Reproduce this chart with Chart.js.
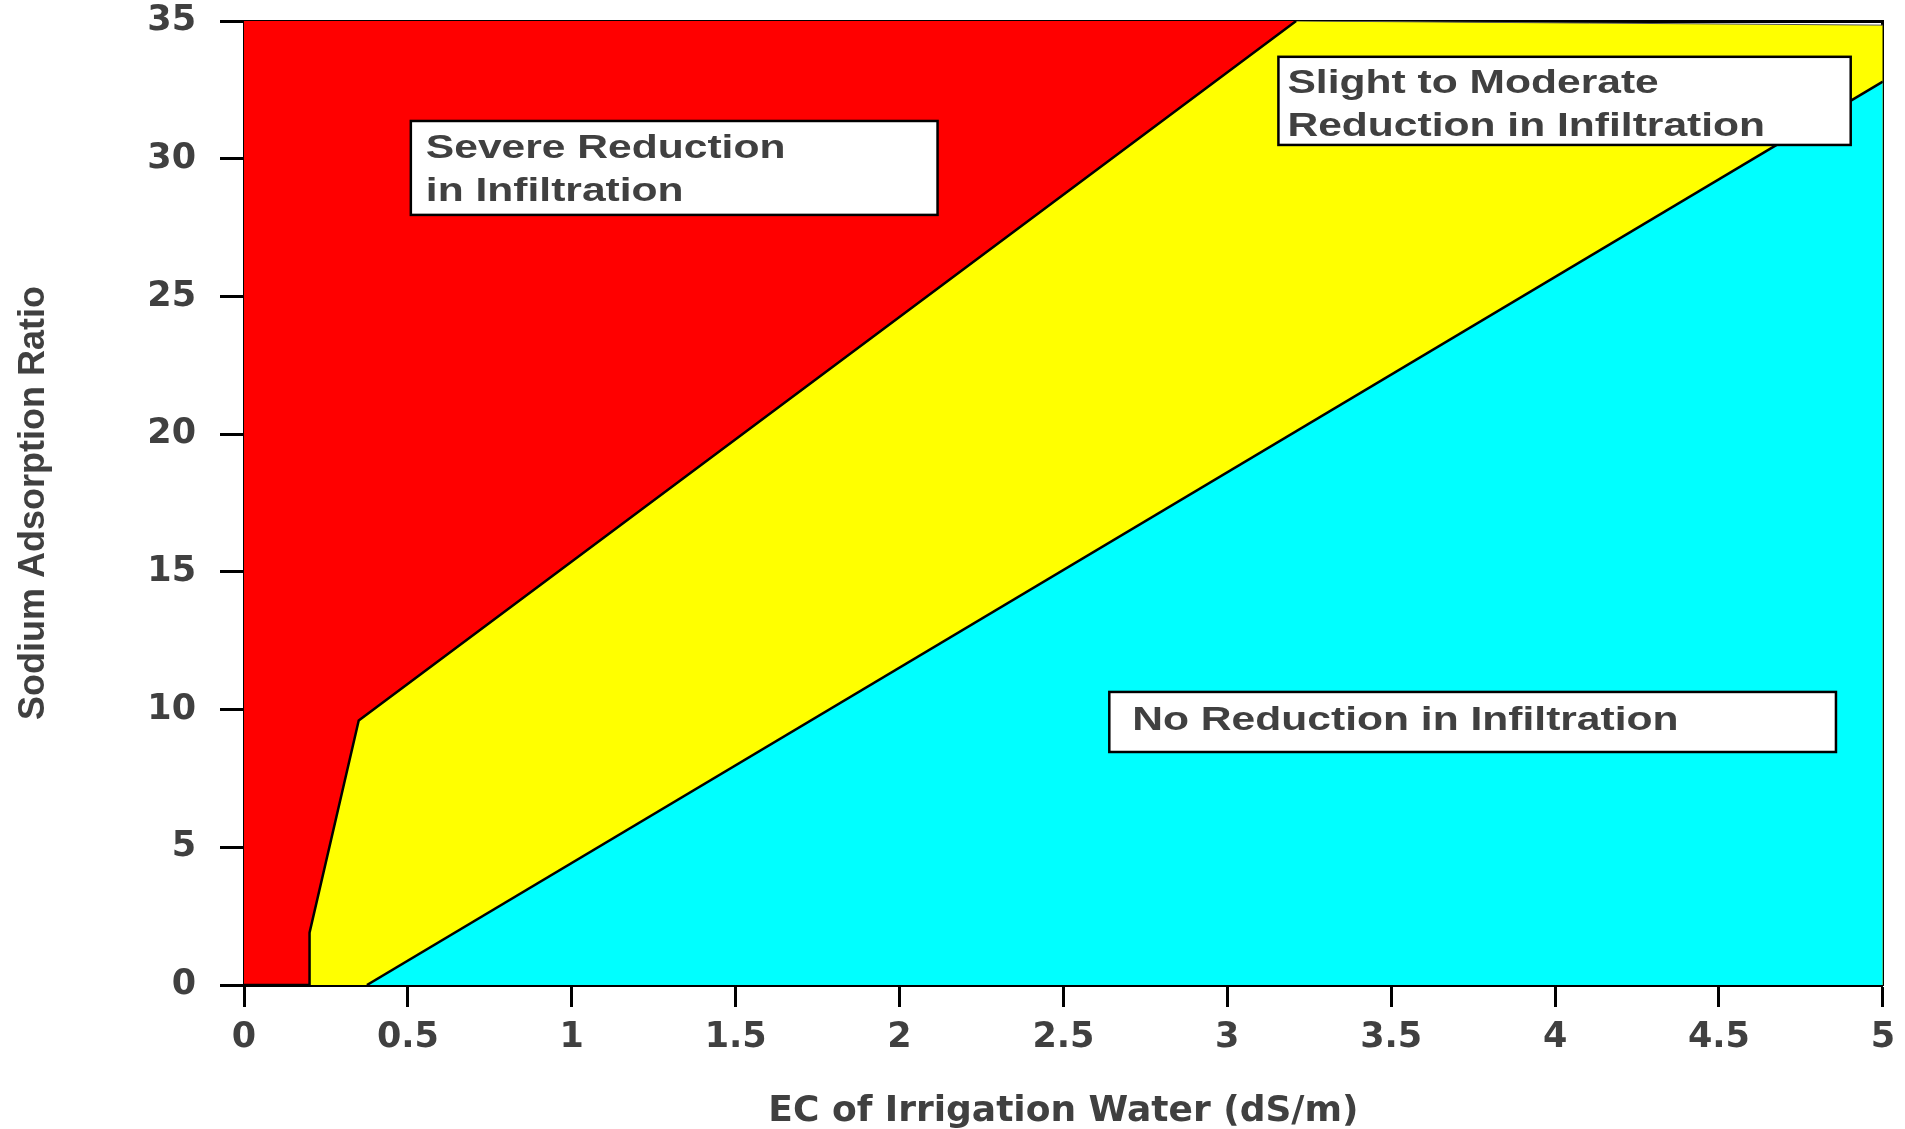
<!doctype html>
<html lang="en">

<head>
  <meta charset="utf-8">
  <title>SAR vs EC of irrigation water</title>
  <style>
    body {
      margin: 0;
      background: #fff;
    }
    #chart {
      display: block;
    }
  </style>
</head>

<body>
  <canvas id="chart" width="1905" height="1129"></canvas>

  <script src="https://cdn.jsdelivr.net/npm/chart.js@4/dist/chart.umd.min.js"></script>
  <script>

  // line between severe and slight/moderate reduction (EC dS/m, SAR)
  const severeEC  = [0, 0.2, 0.2, 0.35, 3.21];
  const severeSAR = [0, 0,   1.9, 9.6,  35];

  // line between slight/moderate and no reduction
  const noneEC  = [0.375, 5];
  const noneSAR = [0,     32.8];

  // top edge of the slight/moderate zone
  const topEC  = [0,  3.21, 5];
  const topSAR = [35, 35,   34.85];

  const xTickLabels = ['0', '0.5', '1', '1.5', '2', '2.5', '3', '3.5', '4', '4.5', '5'];
  const yTickLabels = ['0', '5', '10', '15', '20', '25', '30', '35'];

  const zoneLabels = [
    ['Severe Reduction', 'in Infiltration'],
    ['Slight to Moderate', 'Reduction in Infiltration'],
    ['No Reduction in Infiltration']
  ];

  const textColor = '#404040';

  function points(xs, ys) {
    return xs.map((x, i) => ({x: x, y: ys[i]}));
  }

  // white label boxes, placed in data units
  const zoneBoxes = {
    id: 'zoneBoxes',
    afterDatasetsDraw(chart, args, opts) {
      let ctx = chart.ctx;
      let xs = chart.scales.x;
      let ys = chart.scales.y;
      opts.boxes.forEach((b, i) => {
        let left = xs.getPixelForValue(b.x0);
        let right = xs.getPixelForValue(b.x1);
        let top = ys.getPixelForValue(b.y0);
        let bottom = ys.getPixelForValue(b.y1);
        ctx.save();
        ctx.fillStyle = '#fff';
        ctx.fillRect(left, top, right - left, bottom - top);
        ctx.lineWidth = 2.5;
        ctx.strokeStyle = '#000';
        ctx.strokeRect(left, top, right - left, bottom - top);
        ctx.fillStyle = textColor;
        ctx.font = opts.font;
        ctx.textBaseline = 'alphabetic';
        ctx.textAlign = 'left';
        zoneLabels[i].forEach((line, j) => {
          ctx.save();
          ctx.translate(left + b.inset, top + b.first + j * opts.lineGap);
          ctx.scale(opts.stretch, 1);
          ctx.fillText(line, 0, 0);
          ctx.restore();
        });
        ctx.restore();
      });
    }
  };

  function plot(canvas) {
    let ctx = canvas.getContext('2d');
    let tickFont = {family: '"DejaVu Sans", sans-serif', weight: 'bold', size: 35};

    let chart = new Chart(ctx, {
      type: 'line',
      data: {
        datasets: [
          {
            label: 'severe',
            data: points(severeEC, severeSAR),
            borderColor: '#000',
            borderWidth: 2.5,
            backgroundColor: '#ff0000',
            fill: 'end',
            pointRadius: 0,
            tension: 0
          },
          {
            label: 'none',
            data: points(noneEC, noneSAR),
            borderColor: '#000',
            borderWidth: 2.5,
            backgroundColor: '#00ffff',
            fill: 'start',
            pointRadius: 0,
            tension: 0
          },
          {
            label: 'slight',
            data: points(topEC, topSAR),
            borderColor: '#555',
            borderWidth: 1,
            backgroundColor: '#ffff00',
            fill: 'start',
            pointRadius: 0,
            tension: 0
          }
        ]
      },
      options: {
        responsive: false,
        animation: false,
        events: [],
        layout: {
          padding: {top: 21, right: 21, left: 0, bottom: 0}
        },
        plugins: {
          legend: {display: false},
          tooltip: {enabled: false},
          zoneBoxes: {
            font: 'bold 33px "Liberation Sans", Arial, sans-serif',
            stretch: 1.29,
            lineGap: 43,
            boxes: [
              {x0: 0.509, x1: 2.116, y0: 31.37, y1: 27.96, inset: 15, first: 37},
              {x0: 3.156, x1: 4.902, y0: 33.70, y1: 30.50, inset: 9, first: 36},
              {x0: 2.640, x1: 4.857, y0: 10.64, y1: 8.46, inset: 23, first: 38}
            ]
          }
        },
        scales: {
          x: {
            type: 'linear',
            position: 'bottom',
            min: 0,
            max: 5,
            z: 1,
            afterFit: s => { s.height = 144; },
            ticks: {
              stepSize: 0.5,
              autoSkip: false,
              maxRotation: 0,
              padding: 10,
              color: textColor,
              font: tickFont,
              callback: (v, i) => xTickLabels[i]
            },
            grid: {drawOnChartArea: false, drawTicks: true, tickLength: 22, tickColor: '#000', tickWidth: 3},
            border: {display: true, color: '#000', width: 3},
            title: {
              display: true,
              text: 'EC of Irrigation Water (dS/m)',
              color: textColor,
              font: {family: '"DejaVu Sans", sans-serif', weight: 'bold', size: 36, lineHeight: 0.8},
              padding: {top: 0, bottom: 3}
            }
          },
          y: {
            type: 'linear',
            position: 'left',
            min: 0,
            max: 35,
            z: 1,
            afterFit: s => {
              s.width = 244;
              s.paddingTop = 0;
              s.paddingBottom = 0;
            },
            ticks: {
              stepSize: 5,
              autoSkip: false,
              padding: 24,
              color: textColor,
              font: tickFont,
              callback: (v, i) => yTickLabels[i]
            },
            grid: {drawOnChartArea: false, drawTicks: true, tickLength: 24, tickColor: '#000', tickWidth: 3},
            border: {display: true, color: '#000', width: 3},
            title: {
              display: true,
              text: 'Sodium Adsorption Ratio',
              color: textColor,
              font: {family: '"Liberation Sans", Arial, sans-serif', weight: 'bold', size: 36},
              padding: {top: 12, bottom: 0}
            }
          },
          x2: {
            type: 'linear',
            position: 'top',
            min: 0,
            max: 5,
            z: 1,
            afterFit: s => { s.height = 0; },
            ticks: {display: false},
            grid: {drawOnChartArea: false, drawTicks: false},
            border: {display: true, color: '#000', width: 3}
          },
          y2: {
            type: 'linear',
            position: 'right',
            min: 0,
            max: 35,
            z: 1,
            afterFit: s => { s.width = 0; },
            ticks: {display: false},
            grid: {drawOnChartArea: false, drawTicks: false},
            border: {display: true, color: '#000', width: 3}
          }
        }
      },
      plugins: [zoneBoxes]
    });
    return chart;
  }

  plot(document.getElementById('chart'));
  </script>

</body>
</html>
